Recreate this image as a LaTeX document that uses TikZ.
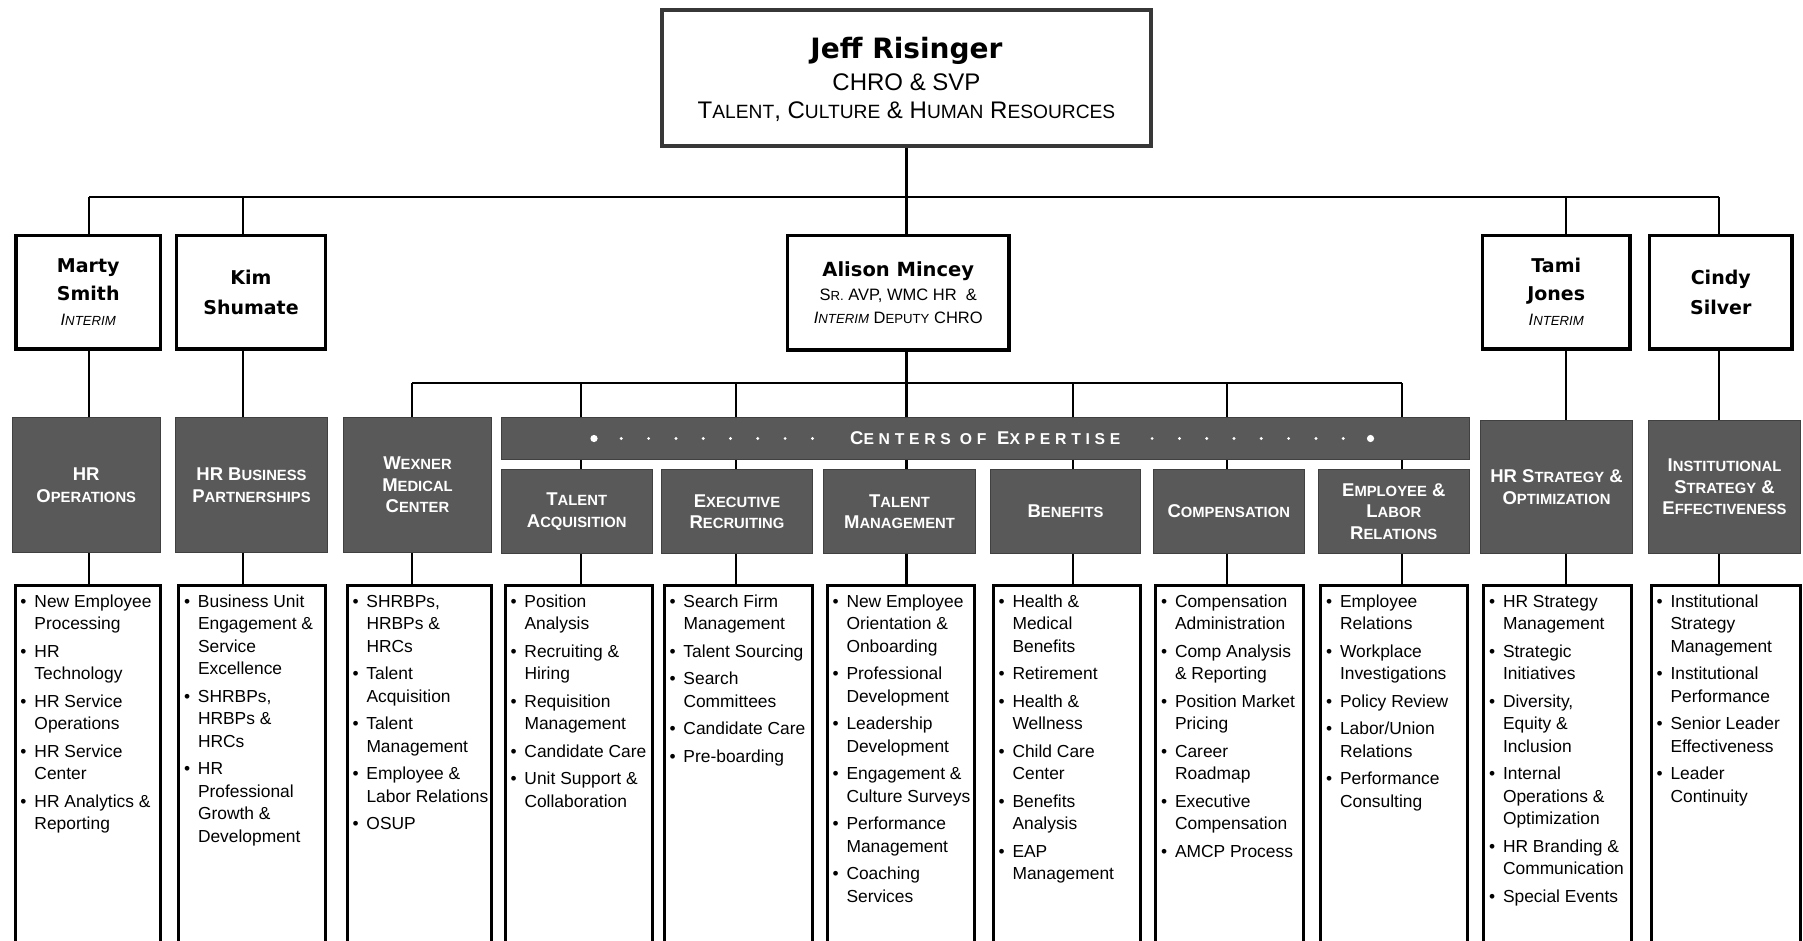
\documentclass[tikz,border=0pt]{standalone}
\usepackage{fontspec}
\setmainfont{Liberation Sans}
\newfontfamily\namefont{DejaVu Sans}
\usetikzlibrary{calc,backgrounds}
\definecolor{boxgray}{RGB}{89,89,89}
\definecolor{framegray}{RGB}{55,55,55}
\makeatletter
\newcommand\smc[1]{{\fontsize{\the\dimexpr\f@size pt*4/5\relax}{\f@baselineskip}\selectfont #1}}
\newcommand\smcb[1]{{\fontsize{\the\dimexpr\f@size pt*17/20\relax}{\f@baselineskip}\selectfont #1}}
\makeatother
\newcommand\interim{{\normalfont\itshape\fontsize{16.5}{20}\selectfont I\smc{NTERIM}}}
\newcommand\bu{\makebox[14pt][l]{•}}
\newcommand\lst[2]{\parbox[c][380pt][t]{#1pt}{\vspace*{6.5pt}\hspace*{5.5pt}\begin{tabular}[t]{@{}l@{}l@{}}#2\end{tabular}}}
\begin{document}
\begin{tikzpicture}[x=1pt,y=-1pt,
  conn/.style={line width=2.2pt, black},
  topbox/.style={draw=black, line width=3.5pt, fill=white, inner sep=0pt, anchor=north west, align=center, font=\namefont\bfseries\fontsize{19}{28}\selectfont},
  graybox/.style={draw=black!75, line width=1pt, fill=boxgray, text=white, inner sep=0pt, anchor=north west, align=center, font=\bfseries\fontsize{18.5}{21.5}\selectfont},
  listbox/.style={draw=black, line width=3pt, fill=white, inner sep=0pt, anchor=north west, font=\fontsize{17.4}{22.5}\selectfont},
]
\useasboundingbox (0,0) rectangle (1803,941);
\clip (0,0) rectangle (1803,941);

% ---------- top ----------
\node[draw=framegray, line width=4pt, fill=white, inner sep=0pt, anchor=north west,
      minimum width=489pt, minimum height=136pt, align=center,
      font=\fontsize{24}{28}\selectfont] (jeff) at (660,8)
  {\rule{0pt}{25pt}{\namefont\bfseries\fontsize{28}{28}\selectfont Jeff Risinger}\\[4pt]
   CHRO \& SVP\\
   T\smc{ALENT}, C\smc{ULTURE} \& H\smc{UMAN} R\smc{ESOURCES}};

% ---------- second row ----------
\node[topbox, minimum width=144.5pt, minimum height=113.5pt] (marty) at (14.25,233.75) {Marty\\Smith\\[-3pt]\interim};
\node[topbox, minimum width=149pt, minimum height=113.5pt] (kim) at (174.75,233.75) {Kim\\[2pt]Shumate};
\node[topbox, minimum width=221.5pt, minimum height=114.5pt, font=\fontsize{16.5}{23.5}\selectfont] (alison) at (785.75,233.75)
  {{\namefont\bfseries\fontsize{19.5}{24}\selectfont Alison Mincey}\\[0.5pt]
   S\smc{R.} AVP, WMC HR\ \ \&\\
   {\itshape I\smc{NTERIM}} D\smc{EPUTY} CHRO};
\node[topbox, minimum width=147.5pt, minimum height=113.5pt] (tami) at (1480.75,233.75) {Tami\\Jones\\[-3pt]\interim};
\node[topbox, minimum width=142.5pt, minimum height=113.5pt] (cindy) at (1647.75,233.75) {Cindy\\[2pt]Silver};

% ---------- gray headers ----------
\node[graybox, minimum width=148.5pt, minimum height=135pt] (hrops) at (11.5,417) {HR\\O\smc{PERATIONS}};
\node[graybox, minimum width=152pt, minimum height=135pt] (hrbp) at (175,417) {HR B\smc{USINESS}\\P\smc{ARTNERSHIPS}};
\node[graybox, minimum width=148pt, minimum height=135pt] (wexner) at (343,417) {W\smc{EXNER}\\M\smc{EDICAL}\\C\smc{ENTER}};
\node[graybox, minimum width=967.5pt, minimum height=42pt,
      font=\bfseries\fontsize{18.5}{20}\selectfont\addfontfeatures{LetterSpace=30}] (band) at (501,417)
  {C\smcb{ENTERS OF} E\smcb{XPERTISE}};
\node[graybox, minimum width=150.5pt, minimum height=84pt] (ta) at (501,469) {T\smc{ALENT}\\A\smc{CQUISITION}};
\node[graybox, minimum width=151pt, minimum height=84pt] (er) at (661,469) {E\smc{XECUTIVE}\\R\smc{ECRUITING}};
\node[graybox, minimum width=152pt, minimum height=84pt] (tm) at (823,469) {T\smc{ALENT}\\M\smc{ANAGEMENT}};
\node[graybox, minimum width=150pt, minimum height=84pt] (ben) at (990,469) {B\smc{ENEFITS}};
\node[graybox, minimum width=151.5pt, minimum height=84pt] (comp) at (1152.5,469) {C\smc{OMPENSATION}};
\node[graybox, minimum width=151.5pt, minimum height=84pt] (elr) at (1317.5,469) {E\smc{MPLOYEE} \&\\L\smc{ABOR}\\R\smc{ELATIONS}};
\node[graybox, minimum width=152pt, minimum height=133pt] (hrso) at (1480,420) {HR S\smc{TRATEGY} \&\\O\smc{PTIMIZATION}};
\node[graybox, minimum width=152pt, minimum height=133pt] (inst) at (1648,420) {I\smc{NSTITUTIONAL}\\S\smc{TRATEGY} \&\\E\smc{FFECTIVENESS}};

% dots in the band
\foreach \i in {1,...,8} {
  \fill[white] ($(band.west)+(93+27.3*\i,0)$) circle[radius=1.6pt];
  \fill[white] ($(band.west)+(869.5-27.3*\i,0)$) circle[radius=1.6pt];
}
\fill[white] ($(band.west)+(93,0)$) circle[radius=3.6pt];
\fill[white] ($(band.west)+(869.5,0)$) circle[radius=3.6pt];

% ---------- lists ----------
\node[listbox] (lhrops) at (13.5,583.5) {\lst{145}{
 \bu & New Employee\\ & Processing\\[5pt]
 \bu & HR\\ & Technology\\[5pt]
 \bu & HR Service\\ & Operations\\[5pt]
 \bu & HR Service\\ & Center\\[5pt]
 \bu & HR Analytics \&\\ & Reporting}};
\node[listbox] (lhrbp) at (177,583.5) {\lst{147}{
 \bu & Business Unit\\ & Engagement \&\\ & Service\\ & Excellence\\[5pt]
 \bu & SHRBPs,\\ & HRBPs \&\\ & HRCs\\[5pt]
 \bu & HR\\ & Professional\\ & Growth \&\\ & Development}};
\node[listbox] (lwexner) at (345.5,583.5) {\lst{144}{
 \bu & SHRBPs,\\ & HRBPs \&\\ & HRCs\\[5pt]
 \bu & Talent\\ & Acquisition\\[5pt]
 \bu & Talent\\ & Management\\[5pt]
 \bu & Employee \&\\ & Labor Relations\\[5pt]
 \bu & OSUP}};
\node[listbox] (lta) at (503.5,583.5) {\lst{147}{
 \bu & Position\\ & Analysis\\[5pt]
 \bu & Recruiting \&\\ & Hiring\\[5pt]
 \bu & Requisition\\ & Management\\[5pt]
 \bu & Candidate Care\\[5pt]
 \bu & Unit Support \&\\ & Collaboration}};
\node[listbox] (ler) at (662.5,583.5) {\lst{148}{
 \bu & Search Firm\\ & Management\\[5pt]
 \bu & Talent Sourcing\\[5pt]
 \bu & Search\\ & Committees\\[5pt]
 \bu & Candidate Care\\[5pt]
 \bu & Pre-boarding}};
\node[listbox] (ltm) at (825.5,583.5) {\lst{147}{
 \bu & New Employee\\ & Orientation \&\\ & Onboarding\\[5pt]
 \bu & Professional\\ & Development\\[5pt]
 \bu & Leadership\\ & Development\\[5pt]
 \bu & Engagement \&\\ & Culture Surveys\\[5pt]
 \bu & Performance\\ & Management\\[5pt]
 \bu & Coaching\\ & Services}};
\node[listbox] (lben) at (991.5,583.5) {\lst{147}{
 \bu & Health \&\\ & Medical\\ & Benefits\\[5pt]
 \bu & Retirement\\[5pt]
 \bu & Health \&\\ & Wellness\\[5pt]
 \bu & Child Care\\ & Center\\[5pt]
 \bu & Benefits\\ & Analysis\\[5pt]
 \bu & EAP\\ & Management}};
\node[listbox] (lcomp) at (1154,583.5) {\lst{148}{
 \bu & Compensation\\ & Administration\\[5pt]
 \bu & Comp Analysis\\ & \& Reporting\\[5pt]
 \bu & Position Market\\ & Pricing\\[5pt]
 \bu & Career\\ & Roadmap\\[5pt]
 \bu & Executive\\ & Compensation\\[5pt]
 \bu & AMCP Process}};
\node[listbox] (lelr) at (1319,583.5) {\lst{147}{
 \bu & Employee\\ & Relations\\[5pt]
 \bu & Workplace\\ & Investigations\\[5pt]
 \bu & Policy Review\\[5pt]
 \bu & Labor/Union\\ & Relations\\[5pt]
 \bu & Performance\\ & Consulting}};
\node[listbox] (lhrso) at (1482,583.5) {\lst{147.5}{
 \bu & HR Strategy\\ & Management\\[5pt]
 \bu & Strategic\\ & Initiatives\\[5pt]
 \bu & Diversity,\\ & Equity \&\\ & Inclusion\\[5pt]
 \bu & Internal\\ & Operations \&\\ & Optimization\\[5pt]
 \bu & HR Branding \&\\ & Communication\\[5pt]
 \bu & Special Events}};
\node[listbox] (linst) at (1649.5,583.5) {\lst{149}{
 \bu & Institutional\\ & Strategy\\ & Management\\[5pt]
 \bu & Institutional\\ & Performance\\[5pt]
 \bu & Senior Leader\\ & Effectiveness\\[5pt]
 \bu & Leader\\ & Continuity}};

% ---------- connectors ----------
\coordinate (bus1L) at (89,197);
\coordinate (bus1R) at (1719,197);
\coordinate (kimx) at (242.6,197);
\coordinate (tamix) at (1566,197);
\coordinate (bus2L) at (412,383);
\coordinate (bus2R) at (1402,383);
\coordinate (tax) at (581,383);
\coordinate (erx) at (736,383);
\coordinate (benx) at (1073,383);
\coordinate (compx) at (1227,383);
\begin{scope}[on background layer]
\fill[white] (0,0) rectangle (1803,941);
\draw[conn] (bus1L) -- (bus1R);
\draw[conn] (bus1L) -- (bus1L |- lhrops.north);
\draw[conn] (kimx) -- (kimx |- lhrbp.north);
\draw[conn] (tamix) -- (tamix |- lhrso.north);
\draw[conn] (bus1R) -- (bus1R |- linst.north);
\draw[conn] (jeff.south) -- (jeff.south |- ltm.north);
\draw[conn] (bus2L) -- (bus2R);
\draw[conn] (bus2L) -- (bus2L |- lwexner.north);
\draw[conn] (tax) -- (tax |- lta.north);
\draw[conn] (erx) -- (erx |- ler.north);
\draw[conn] (benx) -- (benx |- lben.north);
\draw[conn] (compx) -- (compx |- lcomp.north);
\draw[conn] (bus2R) -- (bus2R |- lelr.north);
\end{scope}
\end{tikzpicture}
\end{document}
